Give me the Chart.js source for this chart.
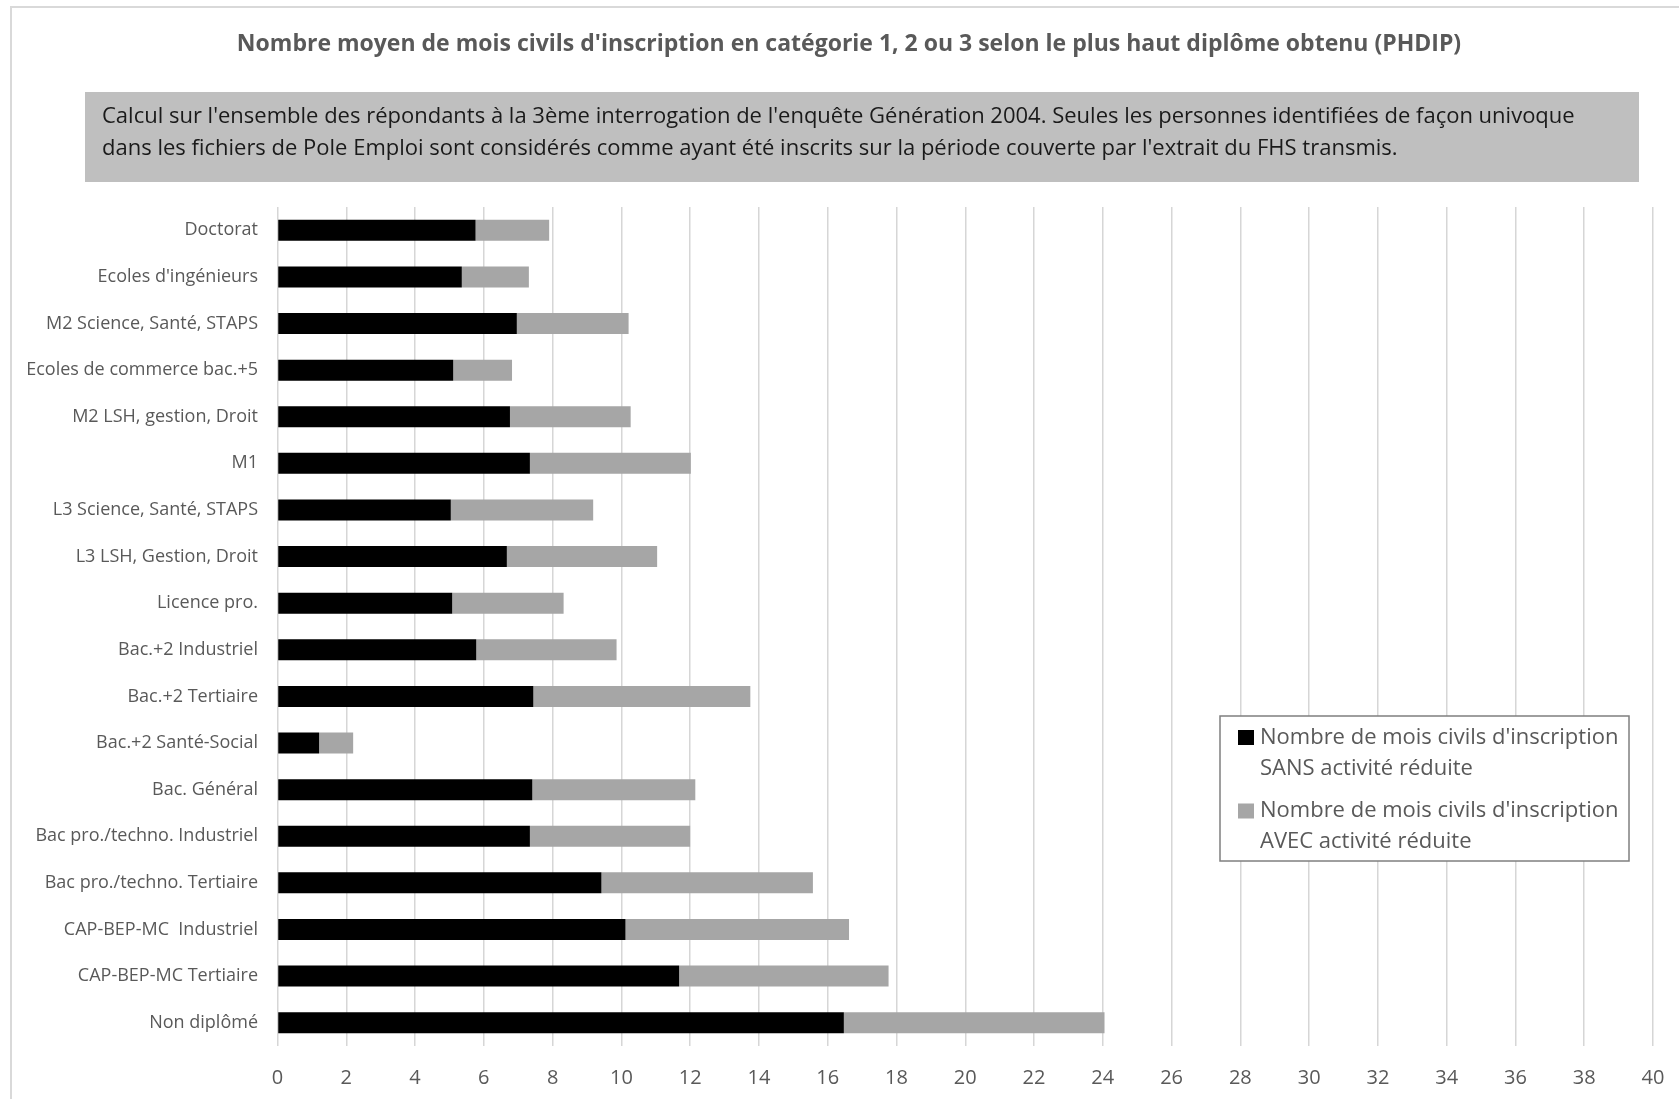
<!DOCTYPE html>
<html>
<head>
<meta charset="utf-8">
<script src="https://cdn.jsdelivr.net/npm/chart.js@4"></script>
<style>
  html, body { margin: 0; padding: 0; background: #fff; }
  canvas { display: block; }
</style>
</head>
<body>
<canvas id="chart" width="1679" height="1099"></canvas>
<script>
  'use strict';

  var titleText = "Nombre moyen de mois civils d'inscription en catégorie 1, 2 ou 3 selon le plus haut diplôme obtenu (PHDIP)";
  var noteLines = [
    "Calcul sur l'ensemble des répondants à la 3ème interrogation de l'enquête Génération 2004. Seules les personnes identifiées de façon univoque",
    "dans les fichiers de Pole Emploi sont considérés comme ayant été inscrits sur la période couverte par l'extrait du FHS transmis."
  ];

  var categories = [
    'Doctorat', "Ecoles d'ingénieurs", 'M2 Science, Santé, STAPS', 'Ecoles de commerce bac.+5',
    'M2 LSH, gestion, Droit', 'M1', 'L3 Science, Santé, STAPS', 'L3 LSH, Gestion, Droit',
    'Licence pro.', 'Bac.+2 Industriel', 'Bac.+2 Tertiaire', 'Bac.+2 Santé-Social',
    'Bac. Général', 'Bac pro./techno. Industriel', 'Bac pro./techno. Tertiaire',
    'CAP-BEP-MC  Industriel', 'CAP-BEP-MC Tertiaire', 'Non diplômé'
  ];

  // mois SANS activité réduite
  var sansValues = [5.76, 5.36, 6.96, 5.11, 6.76, 7.34, 5.04, 6.67, 5.08, 5.78, 7.44, 1.21, 7.41, 7.34, 9.42, 10.12, 11.68, 16.47];
  // mois AVEC activité réduite
  var avecValues = [2.14, 1.95, 3.25, 1.71, 3.51, 4.68, 4.14, 4.37, 3.24, 4.08, 6.31, 0.99, 4.74, 4.66, 6.15, 6.50, 6.09, 7.58];

  var sansLabel = ["Nombre de mois civils d'inscription", 'SANS activité réduite'];
  var avecLabel = ["Nombre de mois civils d'inscription", 'AVEC activité réduite'];

  var xTicks = { min: 0, max: 40, step: 2 };

  var FONT = "'Open Sans', 'DejaVu Sans', sans-serif";

  // title, grey note box and outer frame
  var decorPlugin = {
    id: 'decor',
    beforeDraw: function (chart) {
      var ctx = chart.ctx;
      ctx.save();
      ctx.fillStyle = '#ffffff';
      ctx.fillRect(0, 0, chart.width, chart.height);
      ctx.strokeStyle = '#d9d9d9';
      ctx.lineWidth = 2;
      ctx.strokeRect(11, 7, chart.width + 20, chart.height + 20);

      ctx.fillStyle = '#595959';
      ctx.font = 'bold 23px ' + FONT;
      ctx.textAlign = 'center';
      ctx.textBaseline = 'middle';
      ctx.fillText(titleText, 849, 44);

      ctx.fillStyle = '#bfbfbf';
      ctx.fillRect(85, 92, 1554, 90);
      ctx.fillStyle = '#1a1a1a';
      ctx.font = '22px ' + FONT;
      ctx.textAlign = 'left';
      ctx.fillText(noteLines[0], 102, 117);
      ctx.fillText(noteLines[1], 102, 149);
      ctx.restore();
    }
  };

  // boxed legend with two-line labels
  var legendPlugin = {
    id: 'boxLegend',
    afterDraw: function (chart) {
      var ctx = chart.ctx;
      ctx.save();
      ctx.fillStyle = '#ffffff';
      ctx.fillRect(1220, 716, 409, 145);
      ctx.strokeStyle = '#7f7f7f';
      ctx.lineWidth = 1.5;
      ctx.strokeRect(1220, 716, 409, 145);
      ctx.font = '22px ' + FONT;
      ctx.textAlign = 'left';
      ctx.textBaseline = 'middle';
      chart.data.datasets.forEach(function (ds, i) {
        var y = 737.5 + i * 73.5;
        ctx.fillStyle = ds.backgroundColor;
        ctx.fillRect(1238, y - 7.5, 16, 15);
        ctx.fillStyle = '#595959';
        ds.legendLines.forEach(function (line, j) {
          ctx.fillText(line, 1260, y + j * 31);
        });
      });
      ctx.restore();
    }
  };

  var ctx = document.getElementById('chart').getContext('2d');
  window.myBars = new Chart(ctx, {
    type: 'bar',
    data: {
      labels: categories,
      datasets: [
        {
          label: sansLabel.join(' '),
          legendLines: sansLabel,
          data: sansValues,
          backgroundColor: '#000000',
          borderWidth: 0,
          barPercentage: 0.45,
          categoryPercentage: 1
        },
        {
          label: avecLabel.join(' '),
          legendLines: avecLabel,
          data: avecValues,
          backgroundColor: '#a6a6a6',
          borderWidth: 0,
          barPercentage: 0.45,
          categoryPercentage: 1
        }
      ]
    },
    options: {
      indexAxis: 'y',
      responsive: false,
      animation: false,
      layout: { padding: { top: 207, right: 26, left: 0, bottom: 0 } },
      plugins: {
        legend: { display: false },
        title: { display: false },
        tooltip: { enabled: false }
      },
      scales: {
        x: {
          stacked: true,
          min: xTicks.min,
          max: xTicks.max,
          afterFit: function (scale) { scale.height = 53; },
          border: { display: false },
          grid: { color: '#d6d6d6', lineWidth: 1.5, drawTicks: false },
          ticks: {
            stepSize: xTicks.step,
            padding: 2,
            color: '#595959',
            // tall line box puts the label centre ~32px under the plot
            font: { family: FONT, size: 20, lineHeight: 3 }
          }
        },
        y: {
          stacked: true,
          afterFit: function (scale) { scale.width = 277.5; },
          border: { display: false },
          grid: { display: false, drawTicks: false },
          ticks: {
            padding: 19.5,
            color: '#595959',
            font: { family: FONT, size: 18 }
          }
        }
      }
    },
    plugins: [decorPlugin, legendPlugin]
  });
</script>
</body>
</html>
